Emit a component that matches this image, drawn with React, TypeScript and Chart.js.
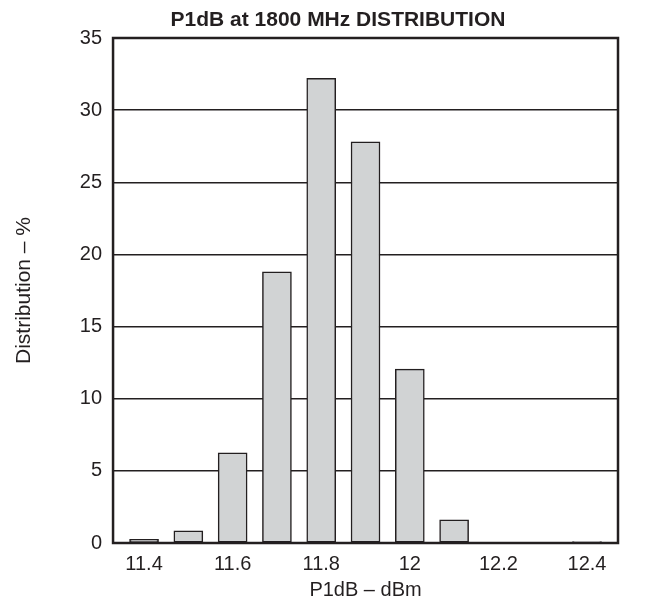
import React, { useEffect, useRef } from "react";
import { Chart, registerables } from "chart.js";

Chart.register(...registerables);

const TITLE = "P1dB at 1800 MHz DISTRIBUTION";
const X_TITLE = "P1dB – dBm";
const Y_TITLE = "Distribution – %";

const BIN_CENTERS = [11.4, 11.5, 11.6, 11.7, 11.8, 11.9, 12.0, 12.1, 12.2, 12.3, 12.4];
const DISTRIBUTION = [0.25, 0.85, 6.25, 18.8, 32.2, 27.8, 12.05, 1.6, 0, 0, 0.1];

const X_TICK_VALUES = [11.4, 11.6, 11.8, 12.0, 12.2, 12.4];
const X_TICK_LABELS = ["11.4", "11.6", "11.8", "12", "12.2", "12.4"];
const X_MIN = 11.33;
const X_MAX = 12.47;

const Y_MIN = 0;
const Y_MAX = 35;
const Y_STEP = 5;

const INK = "#231f20";
const BAR_FILL = "#d1d3d4";
const FONT = "'Liberation Sans', Arial, Helvetica, sans-serif";

const framePlugin = {
  id: "frameAndTitle",
  afterDatasetsDraw(chart: any) {
    const { ctx, chartArea } = chart;
    ctx.save();
    ctx.strokeStyle = INK;
    ctx.lineWidth = 2.5;
    ctx.strokeRect(
      chartArea.left,
      chartArea.top,
      chartArea.right - chartArea.left,
      chartArea.bottom - chartArea.top
    );
    ctx.restore();
  },
  afterDraw(chart: any) {
    const { ctx } = chart;
    ctx.save();
    ctx.fillStyle = INK;
    ctx.font = `bold 21px ${FONT}`;
    ctx.textAlign = "center";
    ctx.textBaseline = "middle";
    ctx.fillText(TITLE, chart.width / 2 + 8, 12);
    ctx.restore();
  },
};

export default function App() {
  const canvasRef = useRef<HTMLCanvasElement | null>(null);

  useEffect(() => {
    if (!canvasRef.current) return;
    const chart = new Chart(canvasRef.current, {
      type: "bar",
      data: {
        datasets: [
          {
            label: "Distribution",
            data: BIN_CENTERS.map((x, i) => ({ x, y: DISTRIBUTION[i] })),
            backgroundColor: BAR_FILL,
            borderColor: INK,
            borderWidth: 1.5,
            borderSkipped: false,
            barThickness: 29,
          },
        ],
      },
      options: {
        animation: false,
        responsive: true,
        maintainAspectRatio: false,
        layout: { padding: { top: 30, right: 34, left: 0, bottom: 0 } },
        plugins: {
          legend: { display: false },
          title: { display: false },
          tooltip: { enabled: false },
        },
        scales: {
          x: {
            type: "linear",
            offset: false,
            min: X_MIN,
            max: X_MAX,
            grid: { display: false, drawTicks: false, offset: false },
            border: { display: false },
            afterBuildTicks: (axis: any) => {
              axis.ticks = X_TICK_VALUES.map((value) => ({ value }));
            },
            ticks: {
              color: INK,
              font: { family: FONT, size: 20, lineHeight: 1 },
              padding: 11,
              autoSkip: false,
              maxRotation: 0,
              callback: (_v: any, index: number) => X_TICK_LABELS[index],
            },
            title: {
              display: true,
              text: X_TITLE,
              color: INK,
              font: { family: FONT, size: 20, lineHeight: 1 },
              padding: { top: -5, bottom: 0 },
            },
          },
          y: {
            min: Y_MIN,
            max: Y_MAX,
            grid: { color: INK, lineWidth: 1.5, drawTicks: false },
            border: { display: false },
            ticks: {
              stepSize: Y_STEP,
              color: INK,
              font: { family: FONT, size: 20, lineHeight: 1 },
              padding: 11,
            },
            title: {
              display: true,
              text: Y_TITLE,
              color: INK,
              font: { family: FONT, size: 21, lineHeight: 1 },
              padding: { top: 5.5, bottom: 34.3 },
            },
          },
        },
      },
      plugins: [framePlugin],
    });
    return () => chart.destroy();
  }, []);

  return (
    <div style={{ width: 644, height: 592, position: "relative" }}>
      <canvas ref={canvasRef} />
    </div>
  );
}
